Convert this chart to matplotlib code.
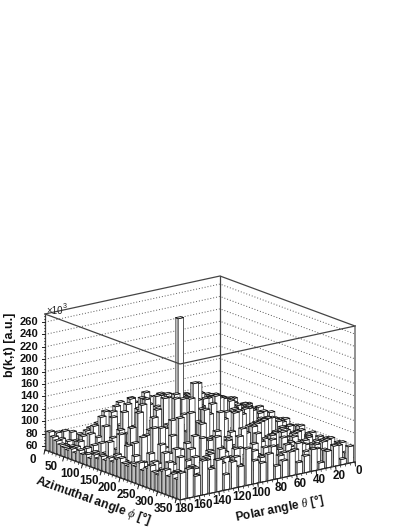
import numpy as np
import matplotlib
matplotlib.use("Agg")
import matplotlib.pyplot as plt
from matplotlib.collections import PolyCollection

plt.rcParams['font.family'] = ['Liberation Sans', 'DejaVu Sans']
plt.rcParams['mathtext.fontset'] = 'custom'
plt.rcParams['mathtext.rm'] = 'Liberation Serif'
plt.rcParams['mathtext.it'] = 'Liberation Serif:italic'

phi_ticks = [0, 50, 100, 150, 200, 250, 300, 350]
theta_ticks = [0, 20, 40, 60, 80, 100, 120, 140, 160, 180]
z_ticks = [60, 80, 100, 120, 140, 160, 180, 200, 220, 240, 260]
x_title = "Azimuthal angle $\\phi$ [°]"
y_title = "Polar angle $\\theta$ [°]"
z_title = "b(k,t) [a.u.]"
phi_range = (0, 360)
theta_range = (0, 180)
z_range = (53.6, 273.0)

# rows: polar bins from 0 to 180; columns: azimuthal bins from 0 to 360
heights = [
 [78,82,70,84,88,66,80,86,88,72,84,90,70,82,88,80,68,84,86,78,72,82,84,70,76,80,66,78,72,80,82,68,80,82,68,80],
 [80,66,86,90,70,84,88,68,84,92,72,88,82,70,92,84,74,68,82,86,66,84,76,70,84,62,80,68,76,64,82,84,68,80,82,62],
 [72,88,82,70,96,76,88,100,78,70,92,82,98,74,82,94,86,68,88,78,92,72,82,64,80,86,68,66,84,76,62,80,86,68,64,86],
 [84,74,92,100,78,104,90,76,104,86,78,100,88,76,98,104,78,92,72,86,100,80,68,92,78,66,88,78,62,84,72,64,84,68,80,80],
 [76,94,80,104,92,76,108,86,92,100,78,90,96,82,100,74,96,108,84,72,96,104,78,70,88,96,66,82,90,64,80,84,60,78,84,64],
 [84,76,98,86,66,110,78,92,112,70,80,112,62,96,108,76,104,66,116,78,98,72,106,82,66,92,74,98,62,86,70,64,90,80,64,88],
 [72,96,62,108,88,76,98,118,64,100,118,74,88,66,110,124,70,106,84,120,62,100,70,108,80,60,94,72,70,96,64,86,74,96,68,80],
 [84,66,104,90,112,70,94,64,112,82,96,122,78,58,92,130,76,98,120,68,116,80,102,66,110,72,90,60,100,70,82,62,94,68,90,72],
 [68,98,82,60,106,88,116,74,80,118,64,104,126,92,72,102,136,62,118,78,96,126,66,94,78,110,64,90,72,62,100,74,68,86,62,92],
 [82,76,108,88,118,64,94,124,66,112,128,82,70,118,100,78,110,144,70,108,88,72,128,80,68,102,76,64,108,76,90,66,96,60,86,80],
 [90,70,86,60,110,94,70,116,100,72,130,88,110,84,160,96,76,110,136,80,68,118,74,102,82,66,114,72,60,96,80,64,84,72,68,74],
 [70,104,76,116,66,98,128,72,112,82,104,134,88,70,122,90,140,128,76,124,90,70,134,68,98,78,60,106,82,70,58,92,70,86,64,96],
 [82,60,102,78,128,64,108,84,132,74,120,92,110,268,140,62,116,172,112,70,136,92,66,108,84,64,100,76,60,94,68,88,62,82,74,84],
 [64,98,72,112,88,124,60,118,94,136,70,116,140,84,150,76,122,70,152,94,72,118,66,96,76,106,62,86,68,56,98,74,60,88,72,90],
 [80,76,106,62,124,86,112,70,130,92,72,126,84,144,104,76,150,110,66,104,136,74,62,102,58,86,72,58,96,78,62,70,92,66,62,112],
 [62,92,86,118,68,104,130,74,118,86,138,66,108,128,78,102,70,120,84,128,64,92,60,108,70,66,54,88,64,56,86,66,88,58,82,86],
 [66,84,98,68,116,88,72,126,90,70,118,134,76,98,120,64,108,78,60,102,56,84,66,58,92,56,78,60,88,54,72,90,60,98,68,96],
 [76,60,88,108,70,112,82,66,118,86,72,102,126,70,94,60,110,56,88,54,78,58,90,54,64,78,56,88,60,74,90,56,84,62,94,78],
 [64,80,62,92,104,66,86,110,68,94,74,58,104,82,58,96,54,74,54,62,56,84,54,70,60,86,54,66,78,58,72,90,60,80,66,104],
 [70,58,80,66,92,76,60,98,60,84,68,94,58,80,54,68,56,62,56,58,70,56,60,58,78,56,68,56,60,74,56,84,66,88,62,92],
 [76,64,56,76,60,84,68,56,76,62,82,56,66,56,60,56,58,54,58,56,54,60,56,58,54,68,56,70,54,60,70,80,58,76,84,108],
 [80,66,60,56,72,58,66,56,64,56,60,56,56,62,54,58,54,56,54,60,54,58,54,56,60,54,62,56,66,58,74,62,80,66,78,86],
 [80,72,64,60,58,68,56,62,56,60,58,54,60,56,58,54,56,54,58,54,56,54,60,58,56,62,60,58,68,62,60,72,64,76,82,100],
 [84,78,74,70,68,66,70,66,72,68,70,66,74,70,76,72,78,74,80,84,78,76,82,80,88,78,84,90,82,80,88,92,84,90,84,96],
]

GRAY = "#bdbdbd"
FRAME = "#444444"
BAR_FILL = 0.74

origin_px = np.array([45.0, 450.0])     # phi=min, theta=max, floor
phi_vec = np.array([135.0, 50.0])
theta_vec = np.array([175.0, -38.0])    # going to theta=min
z_vec = np.array([0.0, -136.0])


def project(phi, theta, z):
    u = (phi - phi_range[0]) / (phi_range[1] - phi_range[0])
    v = (theta_range[1] - theta) / (theta_range[1] - theta_range[0])
    w = (z - z_range[0]) / (z_range[1] - z_range[0])
    return origin_px + u * phi_vec + v * theta_vec + w * z_vec


fig = plt.figure(figsize=(4.07, 5.27), dpi=100, facecolor="white")
ax = fig.add_axes([0, 0, 1, 1])
ax.set_xlim(0, 407)
ax.set_ylim(527, 0)
ax.axis("off")

zlo, zhi = z_range
pmin, pmax = phi_range
tmin, tmax = theta_range

# back walls and grid
for z in z_ticks:
    pts = np.array([project(pmin, tmax, z), project(pmin, tmin, z), project(pmax, tmin, z)])
    ax.plot(pts[:, 0], pts[:, 1], color="#555555", lw=0.7, ls=(0, (1, 2)), zorder=1)
back = np.array([project(pmin, tmax, zhi), project(pmin, tmin, zhi), project(pmax, tmin, zhi)])
ax.plot(back[:, 0], back[:, 1], color=FRAME, lw=0.9, zorder=1)
for p, t, col, lw in [(pmin, tmin, FRAME, 0.9), (pmin, tmax, FRAME, 0.9), (pmax, tmin, "#888888", 1.3)]:
    a, b = project(p, t, zlo), project(p, t, zhi)
    ax.plot([a[0], b[0]], [a[1], b[1]], color=col, lw=lw, zorder=1)

# bars
H = np.array(heights, dtype=float)
nt, np_ = H.shape
dp = (pmax - pmin) / np_
dt = (tmax - tmin) / nt
inset = (1 - BAR_FILL) / 2
polys, faces, widths = [], [], []
for i in range(nt):
    for j in range(np_):
        p0 = pmin + (j + inset) * dp
        p1 = pmin + (j + 1 - inset) * dp
        t0 = tmin + (i + inset) * dt
        t1 = tmin + (i + 1 - inset) * dt
        h = H[i, j]
        polys.append([project(p0, t1, zlo), project(p1, t1, zlo), project(p1, t1, h), project(p0, t1, h)])
        faces.append(GRAY)
        widths.append(0.3)
        polys.append([project(p1, t1, zlo), project(p1, t0, zlo), project(p1, t0, h), project(p1, t1, h)])
        faces.append("white")
        widths.append(0.5)
        polys.append([project(p0, t0, h), project(p1, t0, h), project(p1, t1, h), project(p0, t1, h)])
        faces.append("white")
        widths.append(0.6)
ax.add_collection(PolyCollection(polys, facecolors=faces, edgecolors="#111111", linewidths=widths, zorder=3))

# front frame
top = np.array([project(pmin, tmax, zhi), project(pmax, tmax, zhi), project(pmax, tmin, zhi)])
ax.plot(top[:, 0], top[:, 1], color=FRAME, lw=0.9, zorder=4)
a, b = project(pmax, tmax, zhi), project(pmax, tmax, 150)
ax.plot([a[0], b[0]], [a[1], b[1]], color=FRAME, lw=0.9, zorder=2)

# floor axes
ax_pts = np.array([project(pmin, tmax, zlo), project(pmax, tmax, zlo), project(pmax, tmin, zlo)])
ax.plot(ax_pts[:, 0], ax_pts[:, 1], color="#222222", lw=0.8, zorder=5)

# z ticks
for z in z_ticks:
    x, y = project(pmin, tmax, z)
    ax.plot([x - 3, x], [y, y], color="#222222", lw=0.7, zorder=5)
    ax.text(38.5, y, str(z), ha="right", va="center", fontsize=8, fontweight="bold", color="#111111")
for z in np.arange(60, 272, 5):
    x, y = project(pmin, tmax, z)
    ax.plot([x - 1.5, x], [y, y], color="#222222", lw=0.5, zorder=5)

# phi ticks
for p in phi_ticks:
    x, y = project(p, tmax, zlo)
    ax.plot([x, x - 1.0], [y, y + 4], color="#222222", lw=0.7, zorder=5)
    ax.text(x - 12.7, y + 10, str(p), ha="center", va="center", fontsize=8.4, fontweight="bold", color="#111111")
for p in np.arange(0, 360, 10):
    x, y = project(p, tmax, zlo)
    ax.plot([x, x - 0.4], [y, y + 2], color="#222222", lw=0.5, zorder=5)

# theta ticks
for t in theta_ticks:
    x, y = project(pmax, t, zlo)
    ax.plot([x, x + 0.5], [y, y + 4], color="#222222", lw=0.7, zorder=5)
    ax.text(x + 3.6, y + 9.5, str(t), ha="center", va="center", fontsize=8.4, fontweight="bold", color="#111111")
for t in np.arange(0, 180, 5):
    x, y = project(pmax, t, zlo)
    ax.plot([x, x + 0.3], [y, y + 2], color="#222222", lw=0.5, zorder=5)

# titles
ax.text(93, 500, x_title, rotation=-19.5, rotation_mode="anchor", ha="center", va="center",
        fontsize=8.8, fontweight="bold", color="#111111")
ax.text(280, 509, y_title, rotation=11.5, rotation_mode="anchor", ha="center", va="center",
        fontsize=8.6, fontweight="bold", color="#111111")
ax.text(10, 345, z_title, rotation=90, ha="center", va="center", fontsize=9, fontweight="bold", color="#111111")
ax.text(46, 311, "×10", ha="left", va="center", fontsize=7, color="#222222")
ax.text(62.5, 306, "3", ha="left", va="center", fontsize=5, color="#222222")

fig.savefig("out.png", dpi=100)
